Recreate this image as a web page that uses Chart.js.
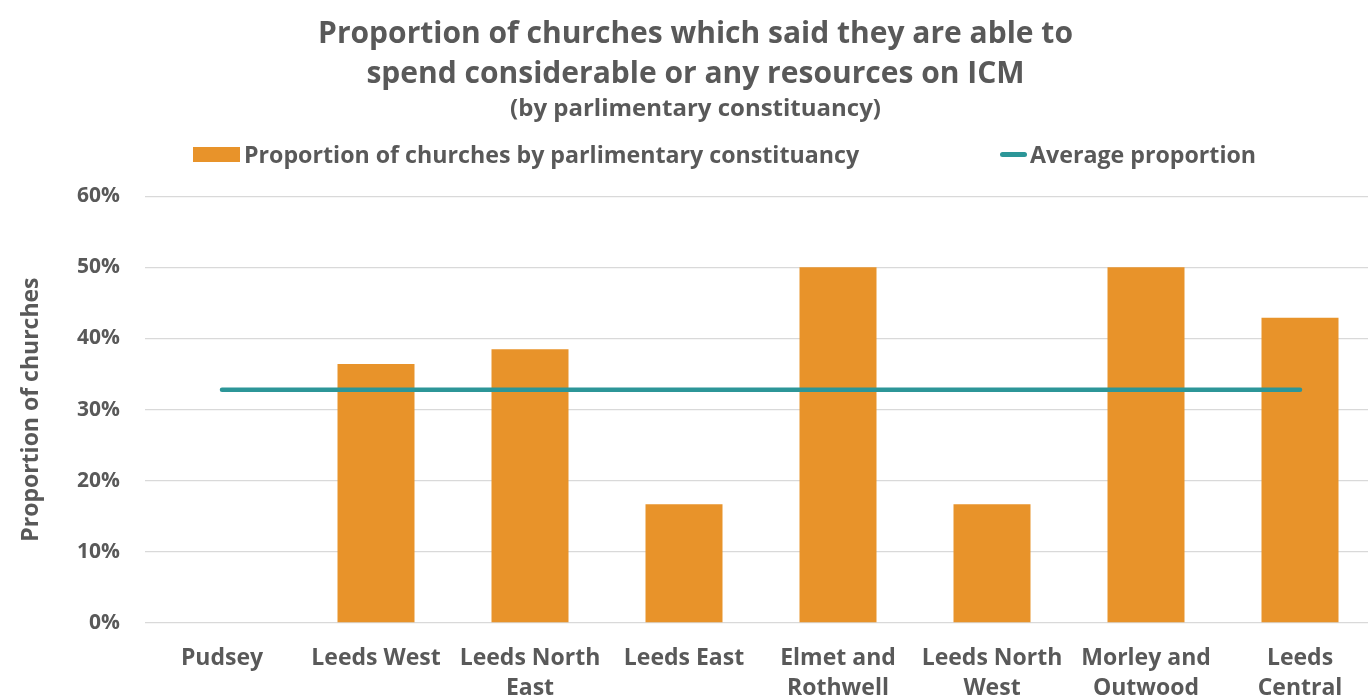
<!DOCTYPE html>
<html>
<head>
<meta charset="utf-8">
<script src="https://cdn.jsdelivr.net/npm/chart.js@4.4.1/dist/chart.umd.min.js"></script>
<style>
  html, body { margin: 0; padding: 0; background: #fff; overflow: hidden; }
  #wrap { position: relative; width: 1368px; height: 697px; overflow: hidden; }
  #box { position: absolute; left: 0; top: 0; width: 1377px; height: 715px; }
  #legend { position: absolute; top: 140px; left: 0; width: 1368px; height: 28px; font-family: "Open Sans", Lato, sans-serif; font-weight: bold; font-size: 23.2px; color: #595959; }
  .item { position: absolute; top: 0; display: flex; align-items: center; height: 28px; white-space: nowrap; }
  .swatch { width: 47px; height: 15px; margin-right: 4px; }
  .stroke { width: 27px; height: 5px; border-radius: 3px; margin-right: 3px; }
</style>
</head>
<body>
<div id="wrap">
  <div id="box"><canvas id="chart"></canvas></div>
  <div id="legend"></div>
</div>
<script>
const constituencies = [
  "Pudsey",
  "Leeds West",
  ["Leeds North", "East"],
  "Leeds East",
  ["Elmet and", "Rothwell"],
  ["Leeds North", "West"],
  ["Morley and", "Outwood"],
  ["Leeds", "Central"]
];
const proportions = [0, 0.364, 0.385, 0.167, 0.5, 0.167, 0.5, 0.429];
const averageProportion = [0.328, 0.328, 0.328, 0.328, 0.328, 0.328, 0.328, 0.328];
const yTicks = [0, 0.1, 0.2, 0.3, 0.4, 0.5, 0.6];

const grey = "#595959";
const orange = "#E8932A";
const teal = "#2C9698";
const fontFamily = "'Open Sans', Lato, sans-serif";

Chart.defaults.font.family = fontFamily;
Chart.defaults.font.weight = "bold";
Chart.defaults.color = grey;

const ctx = document.getElementById("chart").getContext("2d");
const chart = new Chart(ctx, {
  data: {
    labels: constituencies,
    datasets: [
      {
        type: "line",
        label: "Average proportion",
        data: averageProportion,
        borderColor: teal,
        backgroundColor: teal,
        borderWidth: 4.5,
        borderCapStyle: "round",
        pointRadius: 0,
        order: 0
      },
      {
        type: "bar",
        label: "Proportion of churches by parlimentary constituancy",
        data: proportions,
        backgroundColor: orange,
        categoryPercentage: 1,
        barPercentage: 0.5,
        order: 1
      }
    ]
  },
  options: {
    responsive: true,
    maintainAspectRatio: false,
    animation: false,
    layout: { padding: { left: 14, right: 0, top: 0, bottom: 0 } },
    plugins: {
      legend: { display: false },
      tooltip: { enabled: false },
      title: {
        display: true,
        text: ["Proportion of churches which said they are able to", "spend considerable or any resources on ICM"],
        color: grey,
        font: { size: 30, weight: "bold", lineHeight: 1.33 },
        padding: { top: 15, bottom: 0 }
      },
      subtitle: {
        display: true,
        text: "(by parlimentary constituancy)",
        color: grey,
        font: { size: 24, weight: "bold", lineHeight: 1.1 },
        padding: { top: 1, bottom: 74 }
      }
    },
    scales: {
      x: {
        grid: { display: false, drawTicks: false },
        border: { display: false },
        ticks: {
          color: grey,
          padding: 21,
          maxRotation: 0,
          autoSkip: false,
          font: { size: 23, weight: "bold", lineHeight: 1.3 }
        },
        afterFit: (scale) => { scale.height = 92; }
      },
      y: {
        min: 0,
        max: 0.6,
        afterBuildTicks: (scale) => { scale.ticks = yTicks.map(v => ({ value: v })); },
        grid: { color: "#D9D9D9", lineWidth: 1.3, drawTicks: false },
        border: { display: false },
        ticks: {
          color: grey,
          padding: 25,
          font: { size: 21, weight: "bold" },
          callback: (v) => Math.round(v * 100) + "%"
        },
        title: {
          display: true,
          text: "Proportion of churches",
          color: grey,
          font: { size: 23, weight: "bold", lineHeight: 1.1 },
          padding: { top: 5, bottom: 0 }
        },
        afterFit: (scale) => { scale.width = 131; }
      }
    }
  }
});

// legend built from the chart's own datasets
const legend = document.getElementById("legend");
const bars = chart.data.datasets[1];
const line = chart.data.datasets[0];
legend.innerHTML =
  '<div class="item" style="left:193px"><span class="swatch" style="background:' + bars.backgroundColor + '"></span>' + bars.label + '</div>' +
  '<div class="item" style="left:1000px"><span class="stroke" style="background:' + line.borderColor + '"></span>' + line.label + '</div>';
</script>
</body>
</html>
